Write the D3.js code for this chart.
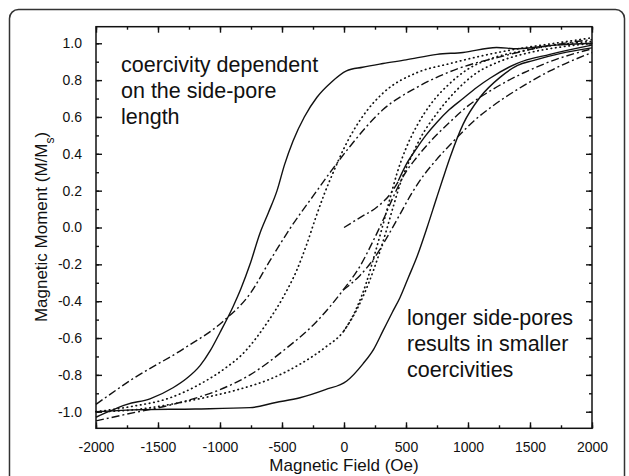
<!DOCTYPE html>
<html>
<head>
<meta charset="utf-8">
<script src="https://cdn.jsdelivr.net/npm/d3@7"></script>
<style>
  body { margin: 0; background: #fff; }
  svg { display: block; font-family: "Liberation Sans", Arial, sans-serif; }
</style>
</head>
<body>
<div id="chart"></div>
<script>
// field values in Oe, moment in M/Ms
var xTicks = [-2000, -1500, -1000, -500, 0, 500, 1000, 1500, 2000];
var yTicks = [-1.0, -0.8, -0.6, -0.4, -0.2, 0.0, 0.2, 0.4, 0.6, 0.8, 1.0];

var solidUpper = [[-2000,-1.03],[-1900,-1.0],[-1750,-0.96],[-1565,-0.93],[-1379,-0.87],[-1270,-0.82],[-1161,-0.75],[-1080,-0.67],[-1000,-0.57],[-895,-0.43],[-830,-0.33],[-758,-0.2],[-677,-0.03],[-610,0.08],[-540,0.2],[-480,0.34],[-411,0.47],[-320,0.6],[-218,0.707],[-100,0.79],[20,0.85],[150,0.87],[315,0.89],[500,0.91],[750,0.94],[960,0.95],[1230,0.977],[1400,0.97],[1700,0.99],[2000,1.0]];
var solidLower = [[-2000,-1.0],[-1700,-0.99],[-1200,-0.985],[-758,-0.978],[-550,-0.95],[-355,-0.924],[-150,-0.88],[22,-0.833],[153,-0.74],[240,-0.66],[315,-0.56],[390,-0.46],[452,-0.38],[520,-0.27],[586,-0.163],[670,0.0],[748,0.163],[800,0.27],[855,0.38],[960,0.56],[1097,0.707],[1258,0.815],[1400,0.88],[1524,0.906],[1750,0.945],[2000,0.975]];
var solidInitial = [[438,0.254],[500,0.34],[586,0.43],[660,0.5],[748,0.57],[850,0.64],[960,0.7],[1070,0.76],[1177,0.81],[1392,0.89],[1661,0.94],[2000,0.99]];
var dashInitial = [[0,0.0],[60,0.025],[129,0.054],[264,0.11],[371,0.18],[438,0.25]];

var dotUpper = [[-2000,-1.0],[-1700,-0.97],[-1427,-0.93],[-1161,-0.85],[-950,-0.76],[-823,-0.69],[-623,-0.52],[-492,-0.38],[-380,-0.23],[-300,-0.09],[-230,0.05],[-160,0.18],[-80,0.31],[0,0.43],[80,0.53],[180,0.63],[315,0.73],[586,0.84],[855,0.89],[1100,0.93],[1400,0.97],[1700,1.0],[2000,1.03]];
var dotLowerA = [[-2000,-1.0],[-1700,-0.99],[-1400,-0.96],[-1100,-0.92],[-855,-0.88],[-586,-0.82],[-350,-0.74],[-150,-0.65],[0,-0.56],[100,-0.44],[180,-0.3],[250,-0.14],[300,-0.02],[360,0.13],[430,0.3],[500,0.43],[586,0.55],[700,0.67],[850,0.78],[1000,0.86],[1200,0.92],[1450,0.96],[1700,0.99],[2000,1.01]];
var dotLowerB = [[0,-0.56],[100,-0.45],[200,-0.3],[280,-0.15],[340,-0.02],[400,0.12],[470,0.27],[540,0.38],[620,0.49],[750,0.62],[900,0.74],[1050,0.83],[1250,0.9],[1500,0.95],[1750,0.98],[2000,1.0]];

var dashDotUpper = [[-2000,-0.96],[-1700,-0.82],[-1298,-0.66],[-976,-0.51],[-758,-0.36],[-597,-0.18],[-430,0.0],[-250,0.17],[-100,0.31],[48,0.44],[315,0.64],[586,0.76],[909,0.86],[1282,0.93],[1600,0.98],[2000,1.02]];
var dashDotLowerA = [[-2000,-1.05],[-1800,-1.02],[-1323,-0.95],[-1000,-0.88],[-758,-0.80],[-492,-0.67],[-220,-0.51],[-8,-0.34],[129,-0.21],[230,-0.08],[315,0.04],[400,0.17],[480,0.28],[586,0.38],[700,0.47],[850,0.57],[1000,0.66],[1200,0.75],[1450,0.84],[1700,0.91],[2000,0.97]];
var dashDotLowerB = [[-8,-0.34],[129,-0.26],[250,-0.16],[350,-0.05],[450,0.07],[550,0.19],[650,0.29],[748,0.37],[900,0.48],[1050,0.58],[1200,0.66],[1400,0.75],[1661,0.85],[2000,0.95]];

var width = 629, height = 476;
var svg = d3.select("#chart").append("svg")
    .attr("width", width)
    .attr("height", height);

// outer rounded frame
svg.append("rect")
    .attr("x", 9.5).attr("y", 9.5)
    .attr("width", 615).attr("height", 490)
    .attr("rx", 9)
    .style("fill", "none")
    .style("stroke", "#333")
    .style("stroke-width", 1.5);

var x = d3.scaleLinear().domain([-2000, 2000]).range([96, 592]);
var y = d3.scaleLinear().domain([-1.09, 1.09]).range([428.3, 26.7]);

var line = d3.line()
    .x(function(d) { return x(d[0]); })
    .y(function(d) { return y(d[1]); })
    .curve(d3.curveMonotoneX);

var DOT = "0.5,4", DASHDOT = "8,3,2,3";
var curves = [
  { data: solidUpper, dash: null },
  { data: solidLower, dash: null },
  { data: solidInitial, dash: null },
  { data: dashInitial, dash: DASHDOT },
  { data: dotUpper, dash: DOT },
  { data: dotLowerA, dash: DOT },
  { data: dotLowerB, dash: DOT },
  { data: dashDotUpper, dash: DASHDOT },
  { data: dashDotLowerA, dash: DASHDOT },
  { data: dashDotLowerB, dash: DASHDOT }
];

var plot = svg.append("g");
curves.forEach(function(c) {
  plot.append("path")
      .datum(c.data)
      .attr("d", line)
      .style("fill", "none")
      .style("stroke", "#111")
      .style("stroke-width", c.dash === DOT ? 1.7 : 1.4)
      .style("stroke-linecap", c.dash === DOT ? "round" : "butt")
      .style("stroke-dasharray", c.dash);
});

// axes, ticks inward on all four sides
var axisStyle = function(g) {
  g.select(".domain").remove();
  g.selectAll("line").style("stroke", "#111").style("stroke-width", 1.4);
  g.selectAll("text").style("font-size", "14px").style("fill", "#111");
};
var hyphen = function(f) { return function(d) { return f(d).replace("\u2212", "-"); }; };
var xMinor = d3.range(-2000, 2001, 250);
var yMinor = d3.range(-10, 11).map(function(v) { return v / 10; });

svg.append("g").attr("transform", "translate(0,428.3)")
    .call(d3.axisBottom(x).tickValues(xMinor).tickSize(-3).tickFormat(""))
    .call(axisStyle);
svg.append("g").attr("transform", "translate(0,428.3)")
    .call(d3.axisBottom(x).tickValues(xTicks).tickSize(-6).tickPadding(14).tickFormat(hyphen(d3.format("d"))))
    .call(axisStyle);
svg.append("g").attr("transform", "translate(0,26.7)")
    .call(d3.axisTop(x).tickValues(xMinor).tickSize(-3).tickFormat(""))
    .call(axisStyle);
svg.append("g").attr("transform", "translate(0,26.7)")
    .call(d3.axisTop(x).tickValues(xTicks).tickSize(-6).tickFormat(""))
    .call(axisStyle);

svg.append("g").attr("transform", "translate(96,0)")
    .call(d3.axisLeft(y).tickValues(yMinor).tickSize(-3).tickFormat(""))
    .call(axisStyle);
svg.append("g").attr("transform", "translate(96,0)")
    .call(d3.axisLeft(y).tickValues(yTicks).tickSize(-6).tickPadding(14).tickFormat(hyphen(d3.format(".1f"))))
    .call(axisStyle);
svg.append("g").attr("transform", "translate(592,0)")
    .call(d3.axisRight(y).tickValues(yMinor).tickSize(-3).tickFormat(""))
    .call(axisStyle);
svg.append("g").attr("transform", "translate(592,0)")
    .call(d3.axisRight(y).tickValues(yTicks).tickSize(-6).tickFormat(""))
    .call(axisStyle);

// plot frame
svg.append("rect")
    .attr("x", 96).attr("y", 26.7)
    .attr("width", 496).attr("height", 401.6)
    .style("fill", "none")
    .style("stroke", "#111")
    .style("stroke-width", 1.5);

// axis titles
svg.append("text")
    .attr("x", 344).attr("y", 471)
    .attr("text-anchor", "middle")
    .style("font-size", "17px")
    .style("fill", "#111")
    .text("Magnetic Field (Oe)");

var yTitle = svg.append("text")
    .attr("transform", "translate(47,227) rotate(-90)")
    .attr("text-anchor", "middle")
    .style("font-size", "17px")
    .style("fill", "#111");
yTitle.append("tspan").text("Magnetic Moment (M/M");
yTitle.append("tspan").attr("baseline-shift", "sub").style("font-size", "12px").text("s");
yTitle.append("tspan").text(")");

// annotations
var notes = [
  { x: 121, y: 72, lines: ["coercivity dependent", "on the side-pore", "length"] },
  { x: 407, y: 325, lines: ["longer side-pores", "results in smaller", "coercivities"] }
];
notes.forEach(function(n) {
  n.lines.forEach(function(t, i) {
    svg.append("text")
        .attr("x", n.x).attr("y", n.y + i * 26)
        .style("font-size", "21.5px")
        .style("fill", "#111")
        .text(t);
  });
});
</script>
</body>
</html>
